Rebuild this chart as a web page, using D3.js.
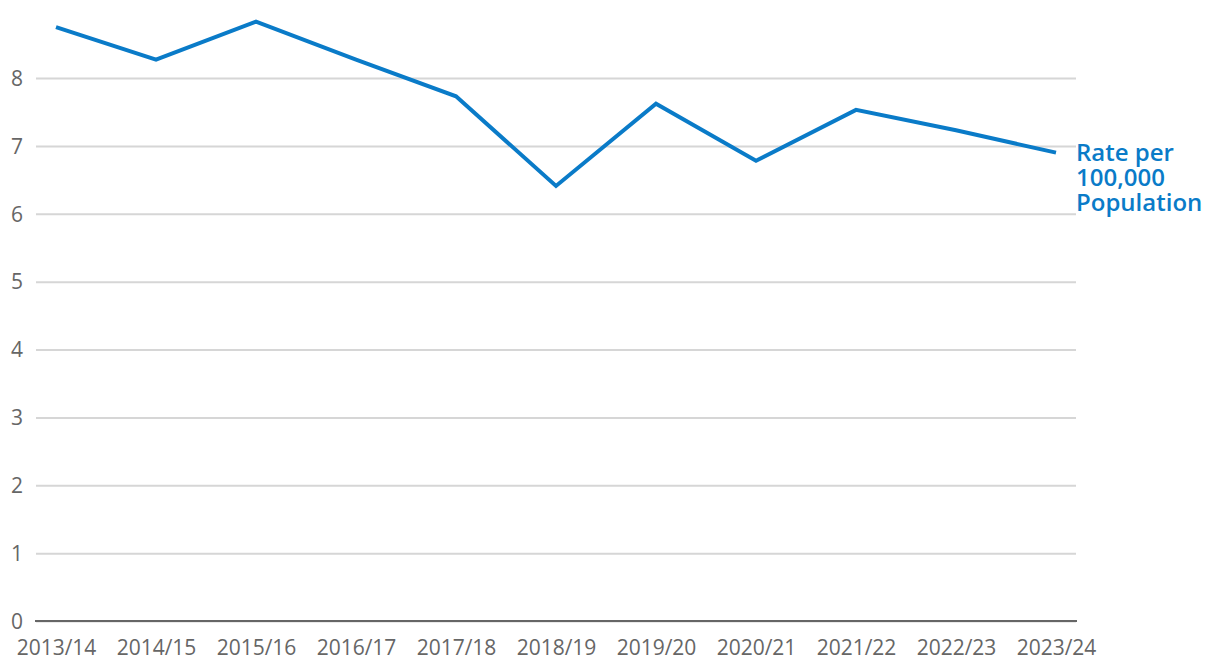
<!DOCTYPE html>
<html>
<head>
<meta charset="utf-8">
<script src="https://cdn.jsdelivr.net/npm/d3@7"></script>
<style>
  body { margin: 0; background: #fff; }
  .grid line { stroke: #d6d6d6; stroke-width: 2; }
  .tick text { fill: #666; font-family: "Open Sans", sans-serif; font-size: 21px; }
  .line { fill: none; stroke: #0a7bc8; stroke-width: 4; stroke-linejoin: miter; }
  .series_label { fill: #0a7bc8; font-family: "Open Sans", sans-serif; font-size: 24px; font-weight: 600; }
</style>
</head>
<body>
<svg id="chart" width="1220" height="668"></svg>
<script>
// data
var years = ["2013/14", "2014/15", "2015/16", "2016/17", "2017/18", "2018/19",
             "2019/20", "2020/21", "2021/22", "2022/23", "2023/24"];
var rates = [8.75, 8.27, 8.83, 8.27, 7.73, 6.41, 7.62, 6.78, 7.53, 7.23, 6.90];
var y_ticks = [0, 1, 2, 3, 4, 5, 6, 7, 8];
var label_lines = ["Rate per", "100,000", "Population"];

var svg = d3.select("#chart");

var x = d3.scalePoint()
    .domain(years)
    .range([56, 1056]);

var y = d3.scaleLinear()
    .domain([0, 8])
    .range([621, 78]);

// horizontal gridlines + y tick labels
var grid = svg.append("g")
    .attr("class", "grid")
    .attr("transform", "translate(36,0)")
    .call(d3.axisLeft(y).tickValues(y_ticks).tickSize(-1040).tickFormat(d3.format("d")).tickPadding(13));
grid.select(".domain").remove();
grid.selectAll(".tick text").attr("dy", "0.35em");

// x axis baseline
var xaxis = svg.append("g")
    .attr("transform", "translate(0,621)")
    .call(d3.axisBottom(x).tickSize(0).tickPadding(19));
xaxis.select(".domain")
    .attr("d", "M35,0H1077")
    .style("stroke", "#666")
    .style("stroke-width", 2);

var line = d3.line()
    .x(function(d, i) { return x(years[i]) })
    .y(function(d) { return y(d) });

svg.append("path")
    .attr("class", "line")
    .datum(rates)
    .attr("d", line);

// series label at the end of the line
var last = rates[rates.length - 1];
svg.append("text")
    .attr("class", "series_label")
    .attr("x", 1076)
    .attr("y", y(last) + 8)
    .selectAll("tspan")
    .data(label_lines)
    .enter().append("tspan")
    .attr("x", 1076)
    .attr("dy", function(d, i) { return i == 0 ? 0 : 25 })
    .text(function(d) { return d });
</script>
</body>
</html>
